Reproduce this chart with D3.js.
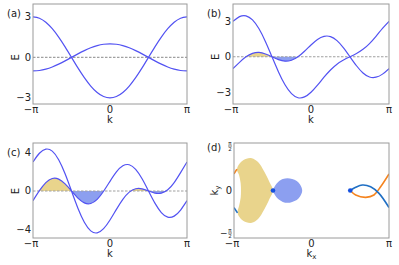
<!DOCTYPE html>
<html>
<head>
<meta charset="utf-8">
<script src="https://cdn.jsdelivr.net/npm/d3@7"></script>
<style>
  body { margin: 0; background: #fff; }
  svg { display: block; font-family: "DejaVu Sans", sans-serif; }
</style>
</head>
<body>
<script>
// k samples (degrees) shared by panels a-c
const kDeg = [-180, -165, -150, -135, -120, -105, -90, -75, -60, -45, -30, -15, 0,
  15, 30, 45, 60, 75, 90, 105, 120, 135, 150, 165, 180]

// band energies
const upperA = [3, 2.9, 2.6, 2.12, 1.5, 0.78, 0, -0.78, -1.5, -2.12, -2.6, -2.9, -3,
  -2.9, -2.6, -2.12, -1.5, -0.78, 0, 0.78, 1.5, 2.12, 2.6, 2.9, 3]
const lowerA = [-1, -0.97, -0.87, -0.71, -0.5, -0.26, 0, 0.26, 0.5, 0.71, 0.87, 0.97, 1,
  0.97, 0.87, 0.71, 0.5, 0.26, 0, -0.26, -0.5, -0.71, -0.87, -0.97, -1]
const upperB = [3, 3.4, 3.47, 3.12, 2.37, 1.28, 0, -1.28, -2.37, -3.12, -3.47, -3.4, -3,
  -2.4, -1.73, -1.12, -0.63, -0.28, 0, 0.28, 0.63, 1.12, 1.73, 2.4, 3]
const lowerB = [-1, -0.47, 0, 0.29, 0.37, 0.24, 0, -0.24, -0.37, -0.29, 0, 0.47, 1,
  1.47, 1.73, 1.71, 1.37, 0.76, 0, -0.76, -1.37, -1.71, -1.73, -1.47, -1]
const upperC = [3, 3.9, 4.33, 4.12, 3.23, 1.78, 0, -1.78, -3.23, -4.12, -4.33, -3.9, -3,
  -1.9, -0.87, -0.12, 0.23, 0.22, 0, -0.22, -0.23, 0.12, 0.87, 1.9, 3]
const lowerC = [-1, 0.03, 0.87, 1.29, 1.23, 0.74, 0, -0.74, -1.23, -1.29, -0.87, -0.03, 1,
  1.97, 2.6, 2.71, 2.23, 1.26, 0, -1.26, -2.23, -2.71, -2.6, -1.97, -1]

// filled pockets: [kStart, kEnd] in degrees, which band, colour
const fillsB = [
  { k: [-150, -90], band: 'lower', kind: 'pos' },
  { k: [-90, -30], band: 'lower', kind: 'neg' },
]
const fillsC = [
  { k: [-165.5, -90], band: 'lower', kind: 'pos' },
  { k: [-90, -14.5], band: 'lower', kind: 'neg' },
  { k: [48.6, 90], band: 'upper', kind: 'pos' },
  { k: [90, 131.4], band: 'upper', kind: 'neg' },
]

// panel (d): outlines in units of pi (kx/pi, ky/pi)
const yellowRegion = [[-0.497, 0], [-0.54, 0.085], [-0.61, 0.2], [-0.69, 0.3], [-0.77, 0.34],
  [-0.84, 0.335], [-0.91, 0.3], [-0.962, 0.225], [-0.935, 0.163], [-0.914, 0.076],
  [-0.91, 0], [-0.914, -0.076], [-0.935, -0.163], [-0.955, -0.235], [-0.91, -0.3],
  [-0.84, -0.335], [-0.77, -0.34], [-0.69, -0.3], [-0.61, -0.2], [-0.54, -0.085]]
const blueRegion = [[-0.497, 0], [-0.47, 0.05], [-0.43, 0.09], [-0.37, 0.12], [-0.31, 0.13],
  [-0.25, 0.12], [-0.19, 0.1], [-0.15, 0.065], [-0.127, 0.03], [-0.12, 0],
  [-0.127, -0.03], [-0.15, -0.065], [-0.19, -0.1], [-0.25, -0.12], [-0.31, -0.13],
  [-0.37, -0.12], [-0.43, -0.09], [-0.47, -0.05]]
const orangeRight = [[0.5, 0], [0.57, -0.047], [0.7, -0.072], [0.806, -0.047], [0.892, 0.04], [1, 0.175]]
const blueRight = [[0.5, 0], [0.57, 0.034], [0.656, 0.058], [0.763, 0.04], [0.871, -0.03], [1, -0.18]]
const orangeLeft = [[-1, 0.175], [-0.962, 0.225]]
const blueLeft = [[-1, -0.18], [-0.955, -0.235]]
const dots = [[-0.497, 0], [0.5, 0]]

const bandColor = '#5252f2'
const posColor = '#e9d48c'
const negColor = '#8c9ff0'

const svg = d3.select('body').append('svg').attr('width', 399).attr('height', 265)

const panels = [
  { id: 'a', label: '(a)', x0: 33, x1: 187, y0: 4, y1: 104, yDom: [-3.45, 3.95], yTicks: [-3, 0, 3],
    upper: upperA, lower: lowerA, fills: [] },
  { id: 'b', label: '(b)', x0: 233, x1: 389, y0: 4, y1: 104, yDom: [-4.0, 4.47], yTicks: [-3, 0, 3],
    upper: upperB, lower: lowerB, fills: fillsB },
  { id: 'c', label: '(c)', x0: 33, x1: 187, y0: 143, y1: 238, yDom: [-4.86, 4.96], yTicks: [-4, 0, 4],
    upper: upperC, lower: lowerC, fills: fillsC },
]

const fmt = (v) => (v < 0 ? '\u2212' + Math.abs(v) : String(v))
const piLabels = { '-180': '\u2212\u03c0', '0': '0', '180': '\u03c0' }

panels.forEach((p) => {
  const x = d3.scaleLinear().domain([-180, 180]).range([p.x0, p.x1])
  const y = d3.scaleLinear().domain(p.yDom).range([p.y1, p.y0])
  const g = svg.append('g')

  g.append('clipPath').attr('id', 'clip-' + p.id)
    .append('rect').attr('x', p.x0).attr('y', p.y0)
    .attr('width', p.x1 - p.x0).attr('height', p.y1 - p.y0)

  const bands = { upper: p.upper, lower: p.lower }
  p.fills.forEach((f, i) => {
    const cid = 'fill-' + p.id + i
    g.append('clipPath').attr('id', cid)
      .append('rect').attr('x', x(f.k[0])).attr('y', p.y0)
      .attr('width', x(f.k[1]) - x(f.k[0])).attr('height', p.y1 - p.y0)
    const area = d3.area()
      .x((d, j) => x(kDeg[j]))
      .y0(y(0))
      .y1((d) => y(d))
      .curve(d3.curveNatural)
    g.append('path')
      .attr('d', area(bands[f.band]))
      .attr('clip-path', 'url(#' + cid + ')')
      .attr('fill', f.kind === 'pos' ? posColor : negColor)
  })

  g.append('line')
    .attr('x1', p.x0).attr('x2', p.x1).attr('y1', y(0)).attr('y2', y(0))
    .attr('stroke', '#a0a0a0').attr('stroke-width', 1.1).attr('stroke-dasharray', '2.5,1.5')

  const line = d3.line().x((d, j) => x(kDeg[j])).y((d) => y(d)).curve(d3.curveNatural)
  ;[p.upper, p.lower].forEach((band) => {
    g.append('path')
      .attr('d', line(band))
      .attr('clip-path', 'url(#clip-' + p.id + ')')
      .attr('fill', 'none').attr('stroke', bandColor).attr('stroke-width', 1.2)
  })

  g.append('rect').attr('x', p.x0).attr('y', p.y0)
    .attr('width', p.x1 - p.x0).attr('height', p.y1 - p.y0)
    .attr('fill', 'none').attr('stroke', '#9a9a9a').attr('stroke-width', 1)

  g.selectAll('.yt').data(p.yTicks).enter().append('text')
    .attr('x', p.x0 - 2).attr('y', (d) => y(d) + 3.5)
    .attr('text-anchor', 'end').attr('font-size', 10).attr('fill', '#222')
    .text(fmt)
  g.selectAll('.xt').data([-180, 0, 180]).enter().append('text')
    .attr('x', (d) => x(d) + (d === -180 ? -2 : 0)).attr('y', p.y1 + 9)
    .attr('text-anchor', 'middle').attr('font-size', 10).attr('fill', '#222')
    .text((d) => piLabels[d])

  g.append('text').attr('x', (p.x0 + p.x1) / 2).attr('y', p.y1 + 19)
    .attr('text-anchor', 'middle').attr('font-size', 10).attr('fill', '#222').text('k')
  g.append('text')
    .attr('transform', `translate(${p.x0 - 14},${y(0)}) rotate(-90)`)
    .attr('text-anchor', 'middle').attr('font-size', 10).attr('fill', '#222').text('E')
  g.append('text').attr('x', p.x0 - 26).attr('y', p.y0 + 13)
    .attr('font-size', 10).attr('fill', '#222').text(p.label)
})

// panel (d)
const dp = { x0: 234, x1: 389, y0: 143, y1: 238 }
const xd = d3.scaleLinear().domain([-1, 1]).range([dp.x0, dp.x1])
const yd = d3.scaleLinear().domain([-0.5, 0.5]).range([dp.y1, dp.y0])
const gd = svg.append('g')
gd.append('clipPath').attr('id', 'clip-d')
  .append('rect').attr('x', dp.x0).attr('y', dp.y0)
  .attr('width', dp.x1 - dp.x0).attr('height', dp.y1 - dp.y0)

const closed = d3.line().x((d) => xd(d[0])).y((d) => yd(d[1])).curve(d3.curveCatmullRomClosed.alpha(0.5))
const open = d3.line().x((d) => xd(d[0])).y((d) => yd(d[1])).curve(d3.curveCatmullRom.alpha(0.5))

gd.append('path').attr('d', closed(yellowRegion)).attr('fill', posColor)
gd.append('path').attr('d', closed(blueRegion)).attr('fill', negColor)
;[[orangeRight, '#f5841f'], [orangeLeft, '#f5841f'], [blueRight, '#1f6fc4'], [blueLeft, '#1f6fc4']]
  .forEach(([pts, c]) => {
    gd.append('path').attr('d', open(pts)).attr('clip-path', 'url(#clip-d)')
      .attr('fill', 'none').attr('stroke', c).attr('stroke-width', 1.6)
  })
gd.selectAll('circle').data(dots).enter().append('circle')
  .attr('cx', (d) => xd(d[0])).attr('cy', (d) => yd(d[1])).attr('r', 2.3).attr('fill', '#1450e0')

gd.append('rect').attr('x', dp.x0).attr('y', dp.y0)
  .attr('width', dp.x1 - dp.x0).attr('height', dp.y1 - dp.y0)
  .attr('fill', 'none').attr('stroke', '#9a9a9a').attr('stroke-width', 1)

gd.selectAll('.xt').data([-1, 0, 1]).enter().append('text')
  .attr('x', (d) => xd(d) + (d === -1 ? -2 : 0)).attr('y', dp.y1 + 9)
  .attr('text-anchor', 'middle').attr('font-size', 10).attr('fill', '#222')
  .text((d) => piLabels[String(d * 180)])

// y ticks: pi/2 as small stacked fractions, nudged inside the frame height
const fracTicks = [{ v: 0.5, sign: '', dy: 3 }, { v: -0.5, sign: '\u2212', dy: -5 }]
fracTicks.forEach((t) => {
  const cy = yd(t.v) + t.dy
  const cx = dp.x0 - 4
  const fg = gd.append('g')
  fg.append('text').attr('x', cx).attr('y', cy - 0.8).attr('text-anchor', 'middle')
    .attr('font-size', 5.5).attr('fill', '#222').text('\u03c0')
  fg.append('line').attr('x1', cx - 2).attr('x2', cx + 2).attr('y1', cy).attr('y2', cy)
    .attr('stroke', '#222').attr('stroke-width', 0.6)
  fg.append('text').attr('x', cx).attr('y', cy + 5).attr('text-anchor', 'middle')
    .attr('font-size', 5.5).attr('fill', '#222').text('2')
  if (t.sign) {
    fg.append('text').attr('x', cx - 2.5).attr('y', cy + 3).attr('text-anchor', 'end')
      .attr('font-size', 9).attr('fill', '#222').text(t.sign)
  }
})
gd.append('text').attr('x', dp.x0 - 2).attr('y', yd(0) + 3.5)
  .attr('text-anchor', 'end').attr('font-size', 10).attr('fill', '#222').text('0')

const kx = gd.append('text').attr('x', (dp.x0 + dp.x1) / 2).attr('y', dp.y1 + 19)
  .attr('text-anchor', 'middle').attr('font-size', 10).attr('fill', '#222')
kx.append('tspan').text('k')
kx.append('tspan').attr('font-size', 7).attr('dy', 2).text('x')

const ky = gd.append('text')
  .attr('transform', `translate(${dp.x0 - 16},${yd(0)}) rotate(-90)`)
  .attr('text-anchor', 'middle').attr('font-size', 10).attr('fill', '#222')
ky.append('tspan').text('k')
ky.append('tspan').attr('font-size', 7).attr('dy', 2).text('y')

gd.append('text').attr('x', dp.x0 - 27).attr('y', dp.y0 + 8)
  .attr('font-size', 10).attr('fill', '#222').text('(d)')
</script>
</body>
</html>
